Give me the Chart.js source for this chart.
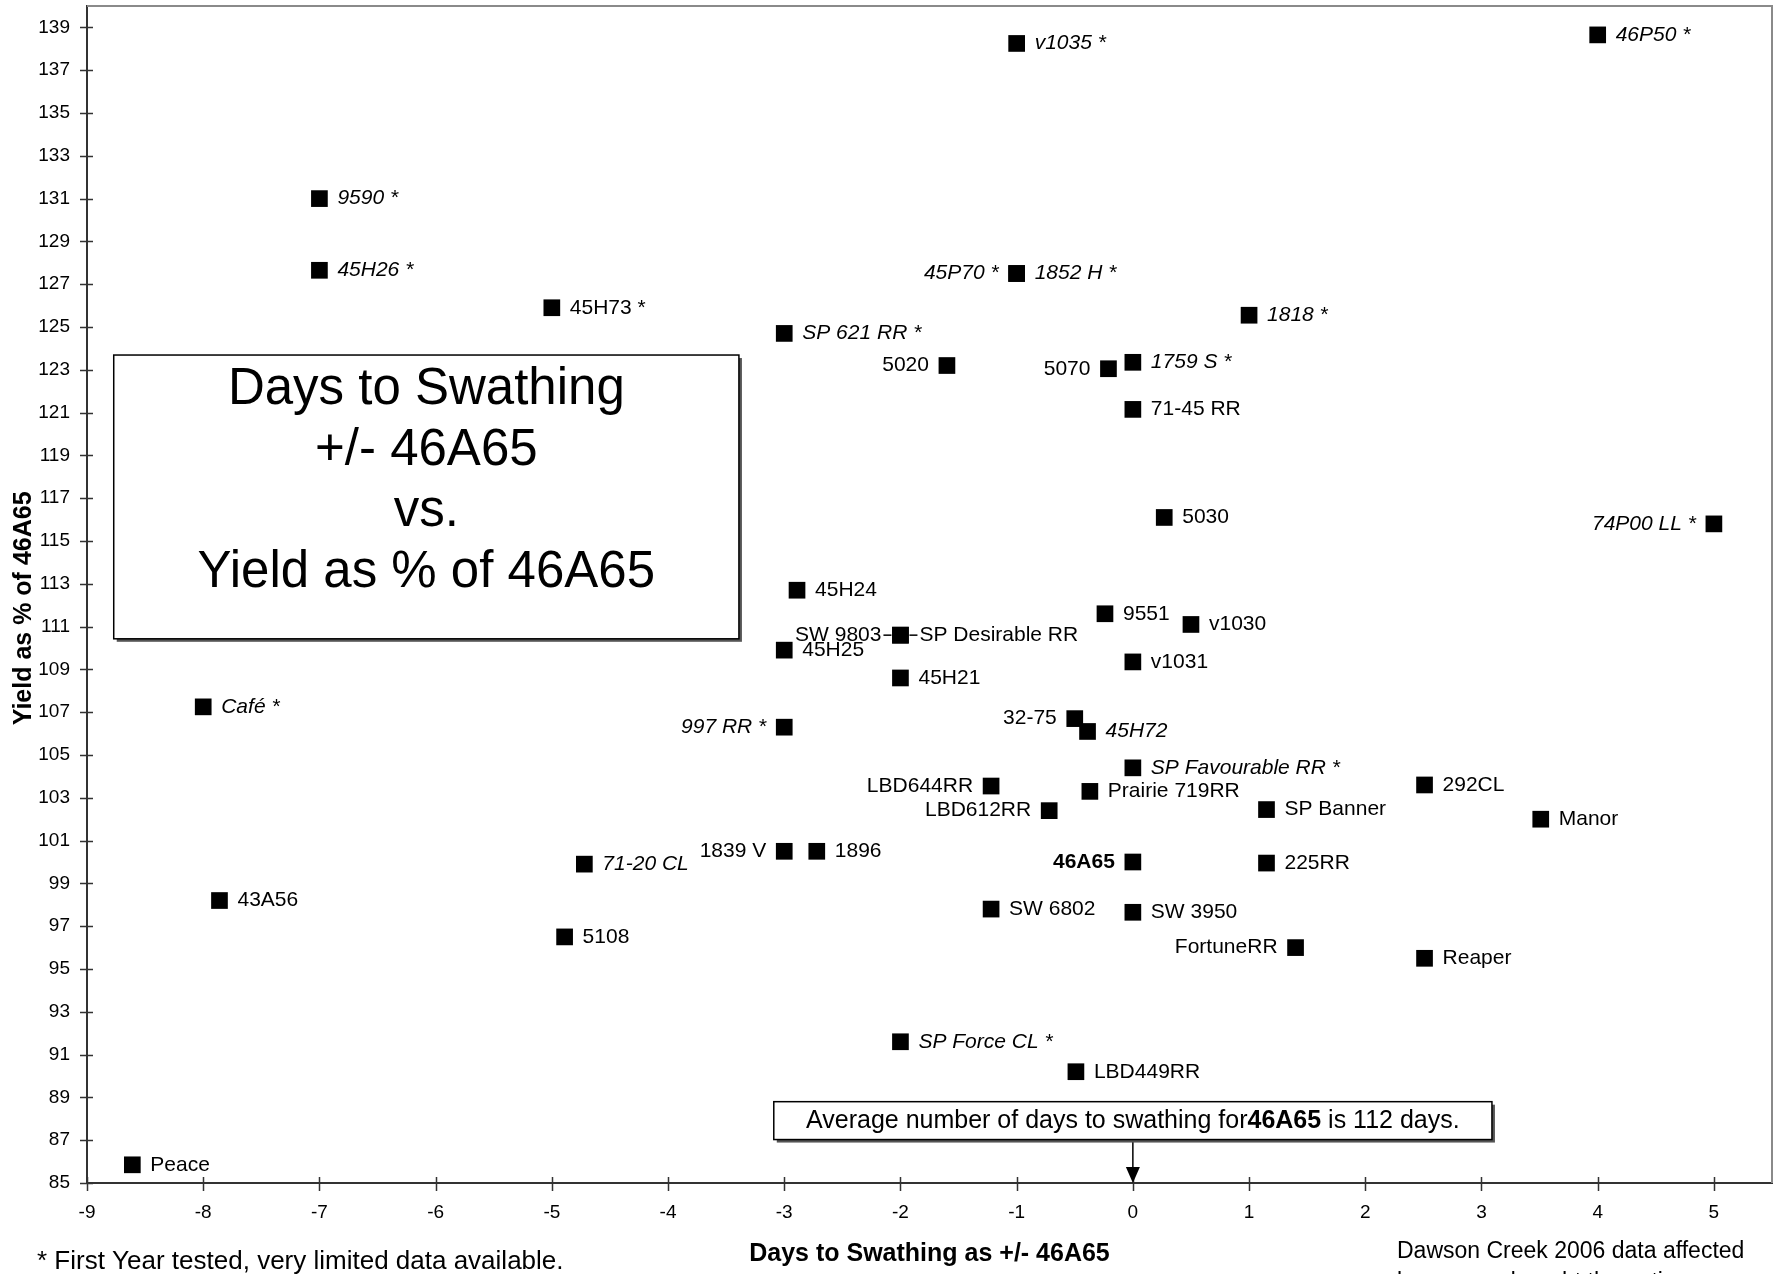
<!DOCTYPE html>
<html>
<head>
<meta charset="utf-8">
<title>Days to Swathing vs. Yield as % of 46A65</title>
<script src="https://cdn.jsdelivr.net/npm/chart.js@4.4.1/dist/chart.umd.min.js"></script>
<style>
    html, body { margin: 0; padding: 0; background: #fff; }
    #wrap { width: 1778px; height: 1274px; }
</style>
</head>
<body>
<div id="wrap"><canvas id="chart" width="1778" height="1274"></canvas></div>
<script>
// ============================================================
// DATA
// ============================================================

const VARIETIES = [
    'Peace', 'Café *', '43A56', '9590 *', '45H26 *', '45H73 *', '5108', '71-20 CL',
    'SP 621 RR *', '45H25', '997 RR *', '1839 V', '45H24', '1896', 'SW 9803', 'SP Desirable RR',
    '45H21', 'SP Force CL *', '5020', 'LBD644RR', 'SW 6802', 'v1035 *', '45P70 *', '1852 H *',
    'LBD612RR', '32-75', 'LBD449RR', '45H72', 'Prairie 719RR', '9551', '5070', '1759 S *',
    '71-45 RR', 'v1031', 'SP Favourable RR *', '46A65', 'SW 3950', '5030', 'v1030', '1818 *',
    'SP Banner', '225RR', 'FortuneRR', '292CL', 'Reaper', 'Manor', '46P50 *', '74P00 LL *'
];

// days to swathing, +/- 46A65
const DAYS = [
    -8.61, -8.0, -7.86, -7.0, -7.0, -5.0, -4.89, -4.72,
    -3.0, -3.0, -3.0, -3.0, -2.89, -2.72, -2.0, -2.0,
    -2.0, -2.0, -1.6, -1.22, -1.22, -1.0, -1.0, -1.0,
    -0.72, -0.5, -0.49, -0.39, -0.37, -0.24, -0.21, 0.0,
    0.0, 0.0, 0.0, 0.0, 0.0, 0.27, 0.5, 1.0,
    1.15, 1.15, 1.4, 2.51, 2.51, 3.51, 4.0, 5.0
];

// yield as % of 46A65
const YIELD = [
    85.85, 107.25, 98.2, 131.0, 127.65, 125.9, 96.5, 99.9,
    124.7, 109.9, 106.3, 100.5, 112.7, 100.5, 110.6, 110.6,
    108.6, 91.6, 123.2, 103.55, 97.8, 138.25, 127.5, 127.5,
    102.4, 106.7, 90.2, 106.1, 103.3, 111.6, 123.05, 123.35,
    121.15, 109.35, 104.4, 100.0, 97.65, 116.1, 111.1, 125.55,
    102.45, 99.95, 96.0, 103.6, 95.5, 102.0, 138.65, 115.8
];

const X_TICKS = [-9, -8, -7, -6, -5, -4, -3, -2, -1, 0, 1, 2, 3, 4, 5];
const Y_TICKS = [85, 87, 89, 91, 93, 95, 97, 99, 101, 103, 105, 107, 109, 111, 113,
                 115, 117, 119, 121, 123, 125, 127, 129, 131, 133, 135, 137, 139];

const TITLE_LINES = ['Days to Swathing', '+/- 46A65', 'vs.', 'Yield as % of 46A65'];
const X_TITLE = 'Days to Swathing as +/- 46A65';
const Y_TITLE = 'Yield as % of 46A65';
const NOTE_LEFT = '* First Year tested, very limited data available.';
const NOTE_RIGHT = ['Dawson Creek 2006 data affected', 'by severe drought the entire season.'];

// ============================================================
// LABEL STYLING
// ============================================================

const FONT = '"Liberation Sans", Arial, Helvetica, sans-serif';
Chart.defaults.font.family = FONT;
Chart.defaults.color = '#000';

const ITALIC = new Set(['Café *', '9590 *', '45H26 *', '71-20 CL', 'SP 621 RR *', '997 RR *',
    'SP Force CL *', 'v1035 *', '45P70 *', '1852 H *', '45H72', '1759 S *',
    'SP Favourable RR *', '1818 *', '46P50 *', '74P00 LL *']);
const BOLD = new Set(['46A65']);
const LEFT_SIDE = new Set(['997 RR *', '1839 V', 'SW 9803', '5020', 'LBD644RR', '45P70 *',
    'LBD612RR', '32-75', '5070', '46A65', 'FortuneRR', '74P00 LL *']);
const LEADER = new Set(['SW 9803', 'SP Desirable RR']);

// Draw a box with a dark drop shadow
function shadowBox(ctx, x0, y0, x1, y1) {
    ctx.fillStyle = '#555';
    ctx.fillRect(x0 + 3, y0 + 3, x1 - x0, y1 - y0);
    ctx.fillStyle = '#fff';
    ctx.fillRect(x0, y0, x1 - x0, y1 - y0);
    ctx.strokeStyle = '#000';
    ctx.lineWidth = 1.5;
    ctx.strokeRect(x0, y0, x1 - x0, y1 - y0);
}

// Keep the plot area where the reference has it
function noPadding(s) {
    s.paddingTop = 0;
    s.paddingBottom = 0;
    s.paddingLeft = 0;
    s.paddingRight = 0;
}

// Frame, crossing tick marks, point labels, text boxes and footnotes
const decorPlugin = {
    id: 'decor',
    beforeDatasetsDraw(chart) {
        const { ctx, chartArea: a, scales: { x, y } } = chart;
        ctx.save();
        // top / right frame
        ctx.strokeStyle = '#8a8a8a';
        ctx.lineWidth = 2;
        ctx.beginPath();
        ctx.moveTo(a.left, a.top);
        ctx.lineTo(a.right, a.top);
        ctx.lineTo(a.right, a.bottom);
        ctx.stroke();
        // tick marks crossing the axes
        ctx.strokeStyle = '#333';
        ctx.lineWidth = 1.5;
        ctx.beginPath();
        Y_TICKS.forEach(v => {
            const py = Math.round(y.getPixelForValue(v)) + 0.5;
            ctx.moveTo(a.left - 7, py);
            ctx.lineTo(a.left + 6, py);
        });
        X_TICKS.forEach(v => {
            const px = Math.round(x.getPixelForValue(v)) + 0.5;
            ctx.moveTo(px, a.bottom - 6);
            ctx.lineTo(px, a.bottom + 8);
        });
        ctx.stroke();

        // title box
        const bx0 = x.getPixelForValue(-8.77), bx1 = x.getPixelForValue(-3.39);
        const by0 = y.getPixelForValue(123.69), by1 = y.getPixelForValue(110.43);
        shadowBox(ctx, bx0, by0, bx1, by1);
        ctx.fillStyle = '#000';
        ctx.font = '51px ' + FONT;
        ctx.textAlign = 'center';
        ctx.textBaseline = 'alphabetic';
        TITLE_LINES.forEach((t, i) => ctx.fillText(t, (bx0 + bx1) / 2, by0 + 49 + i * 61));
        ctx.restore();
    },
    afterDatasetsDraw(chart) {
        const { ctx, chartArea: a, scales: { x, y } } = chart;
        const meta = chart.getDatasetMeta(0);
        ctx.save();
        ctx.fillStyle = '#000';
        ctx.strokeStyle = '#000';
        ctx.textBaseline = 'middle';

        // point labels
        VARIETIES.forEach((name, i) => {
            const pt = meta.data[i];
            const left = LEFT_SIDE.has(name);
            const style = ITALIC.has(name) ? 'italic ' : BOLD.has(name) ? 'bold ' : '';
            ctx.font = style + '21px ' + FONT;
            ctx.textAlign = left ? 'right' : 'left';
            let off = 18;
            if (LEADER.has(name)) {
                const d = left ? -1 : 1;
                ctx.lineWidth = 1.5;
                ctx.beginPath();
                ctx.moveTo(pt.x + d * 9, pt.y);
                ctx.lineTo(pt.x + d * 17, pt.y);
                ctx.stroke();
                off = 19;
            }
            ctx.fillText(name, pt.x + (left ? -off : off), pt.y);
        });

        // average-days box with arrow to 0
        const zx = x.getPixelForValue(0);
        const ax0 = x.getPixelForValue(-3.09), ax1 = x.getPixelForValue(3.09);
        const ay0 = y.getPixelForValue(88.8), ay1 = y.getPixelForValue(87.03);
        ctx.lineWidth = 1.5;
        ctx.beginPath();
        ctx.moveTo(zx, ay1);
        ctx.lineTo(zx, a.bottom - 14);
        ctx.stroke();
        ctx.beginPath();
        ctx.moveTo(zx - 7, a.bottom - 16);
        ctx.lineTo(zx + 7, a.bottom - 16);
        ctx.lineTo(zx, a.bottom);
        ctx.closePath();
        ctx.fill();
        shadowBox(ctx, ax0, ay0, ax1, ay1);

        const parts = [['Average number of days to swathing for', ''], ['46A65', 'bold '], [' is 112 days.', '']];
        let total = 0;
        parts.forEach(p => { ctx.font = p[1] + '25px ' + FONT; total += ctx.measureText(p[0]).width; });
        let tx = (ax0 + ax1) / 2 - total / 2;
        ctx.fillStyle = '#000';
        ctx.textAlign = 'left';
        parts.forEach(p => {
            ctx.font = p[1] + '25px ' + FONT;
            ctx.fillText(p[0], tx, (ay0 + ay1) / 2);
            tx += ctx.measureText(p[0]).width;
        });
        ctx.restore();
    },
    afterDraw(chart) {
        const { ctx } = chart;
        ctx.save();
        ctx.fillStyle = '#000';
        ctx.textBaseline = 'middle';
        ctx.textAlign = 'left';
        ctx.font = '26px ' + FONT;
        ctx.fillText(NOTE_LEFT, 37, 1262);
        ctx.font = '23px ' + FONT;
        ctx.fillText(NOTE_RIGHT[0], 1397, 1252);
        ctx.fillText(NOTE_RIGHT[1], 1397, 1283);
        ctx.restore();
    }
};

// ============================================================
// CHART
// ============================================================

const points = VARIETIES.map((v, i) => ({ x: DAYS[i], y: YIELD[i] }));

new Chart(document.getElementById('chart').getContext('2d'), {
    type: 'scatter',
    data: {
        datasets: [{
            label: 'Varieties',
            data: points,
            pointStyle: 'rect',
            pointRadius: 11.8,
            pointHoverRadius: 11.8,
            backgroundColor: '#000',
            borderColor: '#000',
            borderWidth: 0,
            clip: false
        }]
    },
    options: {
        responsive: false,
        animation: false,
        devicePixelRatio: 1,
        events: [],
        layout: { autoPadding: false, padding: { top: 6, right: 6, left: 0, bottom: 0 } },
        plugins: {
            legend: { display: false },
            tooltip: { enabled: false }
        },
        scales: {
            x: {
                type: 'linear',
                min: -9,
                max: 5.5,
                afterBuildTicks: (s) => { s.ticks = X_TICKS.map(v => ({ value: v })); },
                afterFit: (s) => { s.height = 91; noPadding(s); },
                ticks: { font: { size: 19 }, color: '#000', padding: 18, maxRotation: 0, autoSkip: false },
                grid: { display: false, drawTicks: false },
                border: { display: true, color: '#333', width: 2 },
                title: {
                    display: true, text: X_TITLE, color: '#000',
                    font: { size: 25, weight: 'bold' }, padding: { top: 0, bottom: 5 }
                }
            },
            y: {
                type: 'linear',
                min: 85,
                max: 140,
                afterBuildTicks: (s) => { s.ticks = Y_TICKS.map(v => ({ value: v })); },
                afterFit: (s) => { s.width = 87; noPadding(s); },
                ticks: { font: { size: 19 }, color: '#000', padding: 17, autoSkip: false },
                grid: { display: false, drawTicks: false },
                border: { display: true, color: '#333', width: 2 },
                title: {
                    // trailing spaces nudge the rotated title a little lower, as in the reference
                    display: true, text: Y_TITLE + '\u00a0\u00a0\u00a0\u00a0', color: '#000',
                    font: { size: 25, weight: 'bold' }, padding: { top: 9, bottom: 0 }
                }
            }
        }
    },
    plugins: [decorPlugin]
});
</script>
</body>
</html>
